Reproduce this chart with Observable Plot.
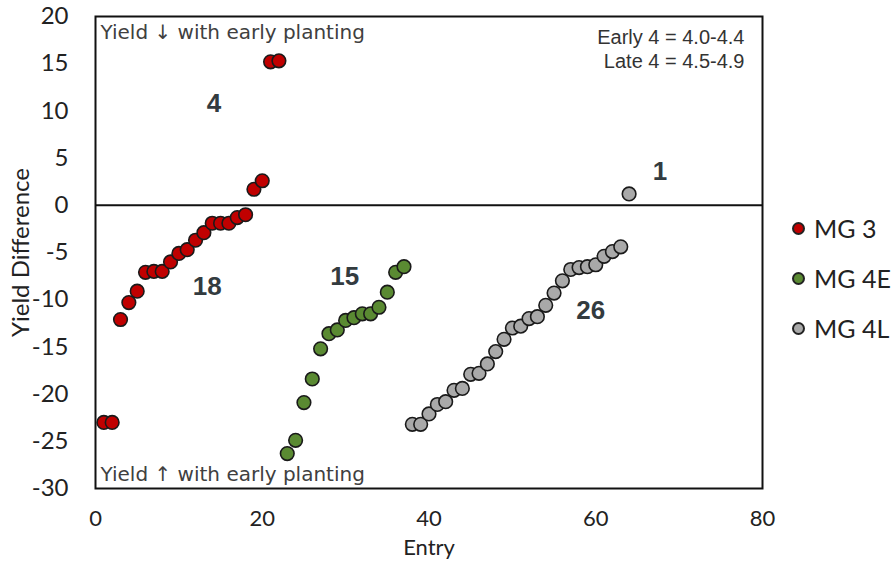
<!DOCTYPE html>
<html>
<head>
<meta charset="utf-8">
<script src="https://cdn.jsdelivr.net/npm/d3@7"></script>
<script src="https://cdn.jsdelivr.net/npm/@observablehq/plot@0.6"></script>
<style>
  body { margin: 0; background: #fff; }
  #wrap { position: relative; width: 895px; height: 561px; }
  #legend { position: absolute; left: 792px; top: 203px; font-family: Lato, "Open Sans", sans-serif; font-size: 25px; color: #222; }
  #legend .item { display: flex; align-items: center; height: 50px; line-height: 50px; }
  #legend .sw { width: 13px; height: 13px; border-radius: 50%; border: 2px solid #222; margin-right: 9px; box-sizing: border-box; }
</style>
</head>
<body>
<div id="wrap"><div id="legend"></div></div>
<script>
// Series: entry number and yield difference
const seriesNames = ["MG 3", "MG 4E", "MG 4L"];
const seriesColors = ["#c00000", "#5a8a32", "#a9a9a9"];

const mg3Entry = [1,2,3,4,5,6,7,8,9,10,11,12,13,14,15,16,17,18,19,20,21,22];
const mg3Yield = [-23.0,-23.0,-12.1,-10.3,-9.1,-7.1,-7.0,-7.0,-6.0,-5.1,-4.7,-3.7,-2.9,-1.9,-1.9,-1.9,-1.3,-1.0,1.7,2.6,15.2,15.3];

const mg4eEntry = [23,24,25,26,27,28,29,30,31,32,33,34,35,36,37];
const mg4eYield = [-26.3,-24.9,-20.9,-18.4,-15.2,-13.6,-13.2,-12.2,-11.9,-11.5,-11.5,-10.8,-9.2,-7.1,-6.5];

const mg4lEntry = [38,39,40,41,42,43,44,45,46,47,48,49,50,51,52,53,54,55,56,57,58,59,60,61,62,63,64];
const mg4lYield = [-23.2,-23.2,-22.1,-21.1,-20.8,-19.6,-19.4,-17.9,-17.8,-16.8,-15.5,-14.2,-13.0,-12.8,-12.0,-11.8,-10.6,-9.3,-8.0,-6.8,-6.6,-6.5,-6.3,-5.4,-4.9,-4.4,1.2];

// Count annotations
const countText = ["4", "18", "15", "26", "1"];
const countX = [14.2, 13.4, 29.9, 59.4, 67.7];
const countY = [10.8, -8.6, -7.6, -11.2, 3.6];

const xTicks = [0, 20, 40, 60, 80];
const yTicks = [-30, -25, -20, -15, -10, -5, 0, 5, 10, 15, 20];

const toRows = (xs, ys, s) => xs.map((x, i) => ({entry: x, yield: ys[i], series: s}));
const rows = [
  ...toRows(mg3Entry, mg3Yield, "MG 3"),
  ...toRows(mg4eEntry, mg4eYield, "MG 4E"),
  ...toRows(mg4lEntry, mg4lYield, "MG 4L")
];
const counts = countText.map((t, i) => ({t, x: countX[i], y: countY[i]}));

const font = 'Lato, "Open Sans", sans-serif';
const arial = '"Liberation Sans", "DejaVu Sans", sans-serif';
const arrowFont = '"DejaVu Sans", sans-serif';

const chart = Plot.plot({
  width: 895,
  height: 561,
  marginLeft: 95,
  marginRight: 133,
  marginTop: 16,
  marginBottom: 73,
  style: {fontFamily: font, fontSize: "24px", color: "#222", background: "#fff"},
  x: {domain: [0, 80], ticks: xTicks},
  y: {domain: [-30, 20], ticks: yTicks},
  color: {domain: seriesNames, range: seriesColors},
  marks: [
    Plot.axisX({ticks: xTicks, tickSize: 0, tickPadding: 22, fontSize: 22, tickFormat: d => String(d), label: "Entry", labelAnchor: "center", labelOffset: 66, labelArrow: "none"}),
    Plot.axisY({ticks: yTicks, tickSize: 0, tickPadding: 27, fontSize: 24, tickFormat: d => String(d), label: "Yield Difference", labelAnchor: "center", labelOffset: 84, labelArrow: "none"}),
    Plot.ruleY([0], {stroke: "#111", strokeWidth: 2}),
    Plot.frame({stroke: "#111", strokeWidth: 2}),
    Plot.text(["Yield ↓ with early planting"], {frameAnchor: "top-left", dx: 5, dy: 8, fontSize: 20, fill: "#404040", fontFamily: arrowFont}),
    Plot.text(["Yield ↑ with early planting"], {frameAnchor: "bottom-left", dx: 5, dy: -8, fontSize: 20, fill: "#404040", fontFamily: arrowFont}),
    Plot.text(["Early 4 = 4.0-4.4\nLate 4 = 4.5-4.9"], {frameAnchor: "top-right", dx: -18, dy: 10, fontSize: 20, lineHeight: 1.2, fill: "#333", fontFamily: arial}),
    Plot.dot(rows, {x: "entry", y: "yield", fill: "series", r: 6.8, stroke: "#1a1a1a", strokeWidth: 1.6}),
    Plot.text(counts, {x: "x", y: "y", text: "t", fontSize: 26, fontWeight: "bold", fill: "#333b3f", fontFamily: arial})
  ]
});
document.getElementById("wrap").prepend(chart);

const legend = document.getElementById("legend");
seriesNames.forEach((n, i) => {
  const it = document.createElement("div");
  it.className = "item";
  it.innerHTML = `<span class="sw" style="background:${seriesColors[i]}"></span><span>${n}</span>`;
  legend.appendChild(it);
});
</script>
</body>
</html>
